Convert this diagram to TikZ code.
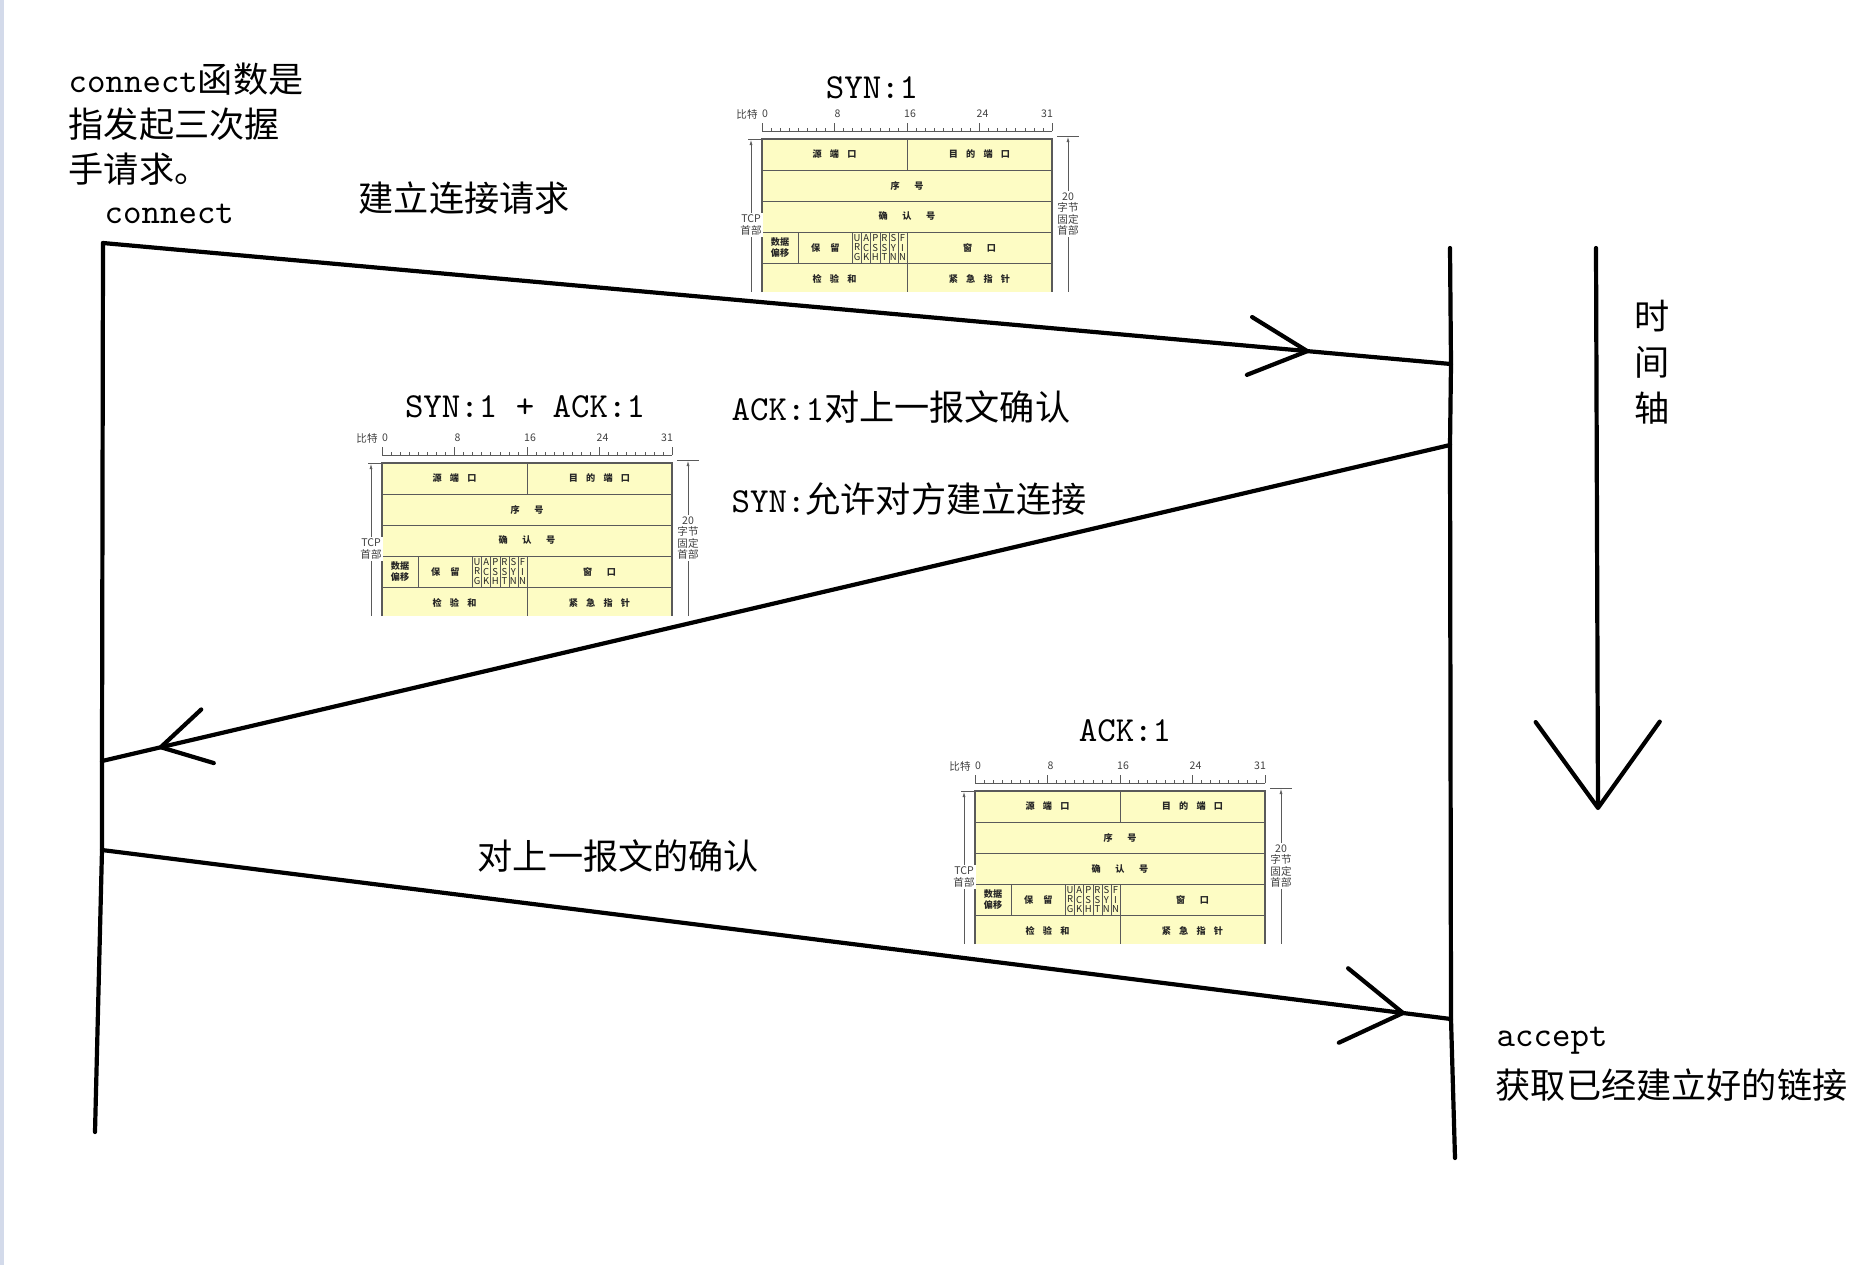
\documentclass[tikz,border=0pt]{standalone}
\usepackage{fontspec}
\newfontfamily\cjk{Noto Sans CJK SC}
\usetikzlibrary{arrows.meta,calc,decorations.markings}
\definecolor{hdryel}{HTML}{FDFCC4}
\definecolor{hdrgray}{HTML}{5A5A5A}
\definecolor{edgebar}{HTML}{D3DAEA}
\newcommand\zh[1]{{\cjk #1}}
\newcommand\hgap{\hspace{0.9em}}
\tikzset{
  life/.style={line width=0.042cm,black,line cap=round,line join=round},
  msg/.style={line width=0.042cm,black,line cap=round},
  tipat/.style n args={3}{postaction={decorate,decoration={markings,
      mark=at position #1 with {\arrow{Straight Barb[round,length=#2,width=#3]}}}}},
  lbl/.style={font=\fontsize{10}{12.8}\selectfont\ttfamily,inner sep=0pt,anchor=west,align=left},
  ttl/.style={font=\fontsize{10}{12}\selectfont\ttfamily,inner sep=0pt},
  hcell/.style={font=\cjk\bfseries\fontsize{2.6}{3.1}\selectfont,text=black!85,inner sep=0pt,align=center},
  hflag/.style={font=\cjk\fontsize{2.7}{2.6}\selectfont,text=black!85,inner sep=0pt,align=center},
  hlbl/.style={font=\cjk\fontsize{3}{3.3}\selectfont,text=black!75,inner sep=0pt,align=center},
  cellline/.style={draw=hdrgray,line width=0.006cm}
}
% tcp header picture: #1 top left corner of the table, #2 name prefix
\newcommand\tcphdr[2]{%
\begin{scope}[shift={#1}]
  \fill[hdryel] (0,0) rectangle (290,153);
  \foreach \r in {31,62,93,124} \draw[cellline] (0,\r) -- (290,\r);
  \draw[cellline] (145,0) -- (145,31) (145,93) -- (145,153) (36.25,93) -- (36.25,124);
  \foreach \bt in {10,...,15} \draw[cellline] ({\bt*9.0625},93) -- ({\bt*9.0625},124);
  \draw[cellline,line width=0.02cm] (0,153) -- (0,0) -- (290,0) -- (290,153);
  % bit ruler
  \draw[cellline] (0,-8) -- (290,-8);
  \foreach \bt in {0,...,32} \draw[cellline] ({\bt*9.0625},-8) -- ++(0,-3);
  \foreach \bt in {0,8,16,24} {
    \draw[cellline] ({\bt*9.0625},-8) -- ++(0,-8);
    \node[hlbl] (#2-b\bt) at ({\bt*9.0625+3},-25) {\bt};}
  \draw[cellline] (290,-8) -- ++(0,-8);
  \node[hlbl] (#2-b31) at (285,-25) {31};
  \node[hlbl] (#2-bit) at (-15,-25) {比特};
  % side marks
  \draw[cellline] (-14,0) -- (0,0) (295,-3) -- (317,-3);
  \draw[cellline,{Latex[length=0.05cm,width=0.03cm]}-] (-11,1) -- (-11,153);
  \draw[cellline,{Latex[length=0.05cm,width=0.03cm]}-] (306,-2) -- (306,153);
  \node[hlbl,fill=white,inner sep=0.4pt] (#2-tcp) at (-11,86) {TCP\\首部};
  \node[hlbl,fill=white,inner sep=0.4pt] (#2-len) at (306,75) {20\\字节\\固定\\首部};
  % fields
  \node[hcell] (#2-src) at (72.5,15.5) {源\hgap 端\hgap 口};
  \node[hcell] (#2-dst) at (217.5,15.5) {目\hgap 的\hgap 端\hgap 口};
  \node[hcell] (#2-seq) at (145,46.5) {序\hspace{1.6em}号};
  \node[hcell] (#2-ack) at (145,77.5) {确\hspace{1.6em}认\hspace{1.6em}号};
  \node[hcell] (#2-off) at (18.1,108.5) {数据\\偏移};
  \node[hcell] (#2-res) at (63.4,108.5) {保\hspace{1.1em}留};
  \foreach \fa/\fb/\fc [count=\i from 10] in {U/R/G,A/C/K,P/S/H,R/S/T,S/Y/N,F/I/N}
    \node[hflag] (#2-f\i) at ({(\i+0.5)*9.0625},108.5) {\fa\\\fb\\\fc};
  \node[hcell] (#2-win) at (217.5,108.5) {窗\hspace{1.6em}口};
  \node[hcell] (#2-sum) at (72.5,140) {检\hgap 验\hgap 和};
  \node[hcell] (#2-urg) at (217.5,140) {紧\hgap 急\hgap 指\hgap 针};
\end{scope}}

\begin{document}
\begin{tikzpicture}[x=0.01cm,y=-0.01cm]
\useasboundingbox (0,0) rectangle (1851,1265);
\fill[edgebar] (0,0) rectangle (4,1265);

% client and server lines
\coordinate (c1) at (103,243);
\coordinate (c2) at (102,761);
\coordinate (c3) at (102,850);
\coordinate (cb) at (95,1132);
\coordinate (st) at (1450,248);
\coordinate (s1) at (1451,364);
\coordinate (s2) at (1450,445);
\coordinate (s3) at (1451,1019);
\coordinate (sb) at (1455,1158);
\draw[life] (c1) -- (c2) -- (c3) -- (cb);
\draw[life] (st) -- (s1) -- (s2) -- (s3) -- (sb);

% handshake segments
\draw[msg,tipat={0.895}{0.58cm}{0.58cm}] (c1) -- (s1);
\draw[msg,tipat={0.958}{0.48cm}{0.55cm}] (s2) -- (c2);
\draw[msg,tipat={0.966}{0.6cm}{0.75cm}] (c3) -- (s3);

% time axis
\coordinate (t0) at (1596,248);
\coordinate (t1) at (1598,810);
\draw[msg,-{Straight Barb[round,length=0.86cm,width=1.24cm]}] (t0) -- (t1);
\node[lbl,anchor=center,align=center,font=\cjk\fontsize{10}{13.1}\selectfont] (axis) at (1652,362) {时\\间\\轴};

% header pictures
\tcphdr{(762,139)}{syn}
\tcphdr{(382,463)}{synack}
\tcphdr{(975,791)}{ack}
\node[ttl] (synT) at (872,88) {SYN:1};
\node[ttl] (synackT) at (525,407) {SYN:1 + ACK:1};
\node[ttl] (ackT) at (1125,731) {ACK:1};

% notes
\node[lbl] (intro) at (68,124) {connect\zh{函数是}\\\zh{指发起三次握}\\\zh{手请求。}};
\node[lbl] (conn) at (104,214) {connect};
\node[lbl] (req) at (358,198) {\zh{建立连接请求}};
\node[lbl] (ackNote) at (731,407) {ACK:1\zh{对上一报文确认}};
\node[lbl] (synNote) at (731,499) {SYN:\zh{允许对方建立连接}};
\node[lbl] (ackAck) at (477,856) {\zh{对上一报文的确认}};
\node[lbl] (acc) at (1496,1041) {accept};
\node[lbl] (accNote) at (1495,1085) {\zh{获取已经建立好的链接}};
\end{tikzpicture}
\end{document}
